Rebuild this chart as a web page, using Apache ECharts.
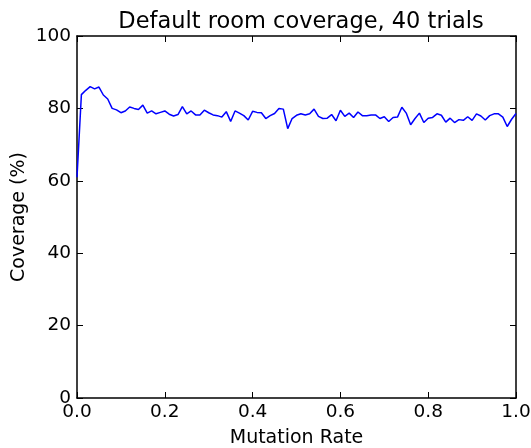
<!DOCTYPE html>
<html>
<head>
<meta charset="utf-8">
<script src="https://cdn.jsdelivr.net/npm/echarts@6/dist/echarts.min.js"></script>
<style>
  html, body { margin: 0; padding: 0; background: #fff; }
  #chart { width: 531px; height: 448px; }
</style>
</head>
<body>
<div id="chart"></div>
<script>
// Mean room coverage (%) over 40 trials, sampled at mutation rates 0.00 … 1.00
const coverage = [
  61.0, 83.8, 85.0, 86.0, 85.4, 85.9, 83.7, 82.6, 80.0, 79.6,
  78.8, 79.3, 80.4, 80.0, 79.7, 80.9, 78.7, 79.3, 78.5, 78.9,
  79.3, 78.4, 77.9, 78.3, 80.5, 78.5, 79.3, 78.2, 78.2, 79.5,
  78.8, 78.2, 78.0, 77.6, 79.1, 76.4, 79.3, 78.7, 78.0, 76.8,
  79.2, 78.9, 78.8, 77.2, 78.0, 78.6, 80.0, 79.8, 74.4, 77.2,
  78.1, 78.5, 78.2, 78.5, 79.8, 77.8, 77.2, 77.3, 78.3, 76.6,
  79.5, 77.8, 78.7, 77.5, 79.0, 78.0, 78.0, 78.2, 78.2, 77.2,
  77.7, 76.4, 77.5, 77.6, 80.3, 78.7, 75.5, 77.2, 78.7, 76.1,
  77.3, 77.5, 78.5, 78.1, 76.2, 77.3, 76.1, 76.9, 76.7, 77.7,
  76.7, 78.5, 77.9, 76.8, 78.0, 78.5, 78.5, 77.6, 75.0, 77.0,
  78.6
];
// Mutation rate grid the trials were run on (step 0.01)
const mutationRates = coverage.map((_, i) => i / 100);

const xTicks = { min: 0, max: 1, interval: 0.2 };
const yTicks = { min: 0, max: 100, interval: 20 };

const titleText = 'Default room coverage, 40 trials';
const xName = 'Mutation Rate';
const yName = 'Coverage (%)';

const FONT = 'DejaVu Sans';
const AXIS_COLOR = '#000';

function axisBase(extra) {
  return Object.assign({
    type: 'value',
    axisLine: { show: true, onZero: false, lineStyle: { color: AXIS_COLOR, width: 1.5 } },
    axisTick: { show: true, inside: true, length: 6, lineStyle: { color: AXIS_COLOR, width: 1 } },
    splitLine: { show: false },
  }, extra);
}

const chart = echarts.init(document.getElementById('chart'), null, { renderer: 'canvas' });

chart.setOption({
  animation: false,
  backgroundColor: '#fff',
  title: {
    text: titleText,
    left: 296,
    textAlign: 'center',
    top: 6,
    textStyle: { fontFamily: FONT, fontSize: 22.5, fontWeight: 'normal', color: '#000' }
  },
  grid: {
    left: 77, right: 15, top: 36, bottom: 50,
    containLabel: false,
    outerBoundsMode: 'none'
  },
  xAxis: [
    axisBase(Object.assign({}, xTicks, {
      position: 'bottom',
      name: xName,
      nameLocation: 'middle',
      nameGap: 31,
      nameMoveOverlap: false,
      nameTextStyle: { fontFamily: FONT, fontSize: 19, color: '#000' },
      axisLabel: {
        show: true, margin: 5, fontFamily: FONT, fontSize: 18.5, color: '#000',
        formatter: v => v.toFixed(1)
      }
    })),
    axisBase(Object.assign({}, xTicks, {
      position: 'top',
      axisLabel: { show: false }
    }))
  ],
  yAxis: [
    axisBase(Object.assign({}, yTicks, {
      position: 'left',
      name: yName,
      nameLocation: 'middle',
      nameGap: 48,
      nameMoveOverlap: false,
      nameTextStyle: { fontFamily: FONT, fontSize: 19, color: '#000' },
      axisLabel: { show: true, margin: 6, fontFamily: FONT, fontSize: 18.5, color: '#000' }
    })),
    axisBase(Object.assign({}, yTicks, {
      position: 'right',
      axisLabel: { show: false }
    }))
  ],
  series: [{
    type: 'line',
    xAxisIndex: 0,
    yAxisIndex: 0,
    data: mutationRates.map((r, i) => [r, coverage[i]]),
    showSymbol: false,
    symbol: 'none',
    lineStyle: { color: '#0000ff', width: 1.5 },
    z: 1
  }]
});
</script>
</body>
</html>
